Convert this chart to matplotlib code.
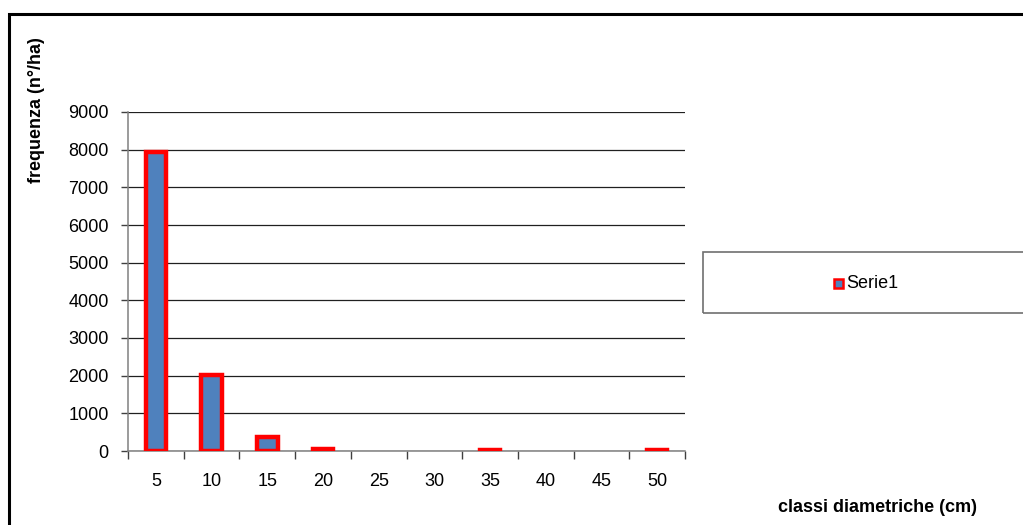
import matplotlib
matplotlib.use("Agg")
import matplotlib.pyplot as plt
from matplotlib.patches import Rectangle

categories = ["5", "10", "15", "20", "25", "30", "35", "40", "45", "50"]
values = [7950, 2020, 380, 60, 0, 0, 15, 0, 0, 15]
yticks = [0, 1000, 2000, 3000, 4000, 5000, 6000, 7000, 8000, 9000]

plt.rcParams['font.family'] = ['Liberation Sans', 'DejaVu Sans']
FS = 13

W, H = 1023, 525
fig = plt.figure(figsize=(W / 100, H / 100), dpi=100)

# outer frame (extends beyond right/bottom)
fig.patches.append(Rectangle((9 / W, -0.1), 1.2, 1 - 13.5 / H + 0.1,
                             transform=fig.transFigure, fill=False,
                             edgecolor='black', linewidth=2.2))

ax = fig.add_axes([128 / W, 1 - 451 / H, (685 - 128) / W, (451 - 112) / H])
x = list(range(len(categories)))
lws = [3.2 if v > 0 else 0 for v in values]
ax.bar(x, values, width=0.37, color='#4F81BD', edgecolor='#FF0000',
       linewidth=lws, zorder=3)
ax.set_xlim(-0.5, len(categories) - 0.5)
ax.set_ylim(0, 9000)
ax.set_yticks(yticks)
ax.set_yticklabels([str(v) for v in yticks], fontsize=FS)
ax.set_xticks([i + 0.5 for i in range(-1, len(categories))], minor=False)
ax.set_xticklabels([])
ax.set_xticks(x, minor=True)
ax.set_xticklabels(categories, minor=True, fontsize=FS)
ax.tick_params(axis='x', which='major', length=6, color='#404040', width=1)
ax.tick_params(axis='x', which='minor', length=0, pad=16)
ax.tick_params(axis='y', length=5, color='#404040', width=1, pad=9)
ax.grid(axis='y', color='#202020', linewidth=0.9, zorder=0)
for s in ['top', 'right']:
    ax.spines[s].set_visible(False)
for s in ['left', 'bottom']:
    ax.spines[s].set_color('#808080')
    ax.spines[s].set_linewidth(1.1)

fig.text(37 / W, 1 - 110 / H, "frequenza (n°/ha)", rotation=90,
         ha='center', va='center', fontsize=FS, fontweight='bold')
fig.text(877 / W, 1 - 508 / H, "classi diametriche (cm)",
         ha='center', va='center', fontsize=FS, fontweight='bold')

# legend box
fig.patches.append(Rectangle((703 / W, 1 - 313 / H), 0.5, 61 / H,
                             transform=fig.transFigure, fill=False,
                             edgecolor='#707070', linewidth=1.2))
fig.patches.append(Rectangle((834 / W, 1 - 287.5 / H), 9 / W, 9 / H,
                             transform=fig.transFigure, facecolor='#4F81BD',
                             edgecolor='#FF0000', linewidth=1.8))
fig.text(846 / W, 1 - 283 / H, "Serie1", ha='left', va='center',
         fontsize=FS)

fig.savefig("out.png", dpi=100)
